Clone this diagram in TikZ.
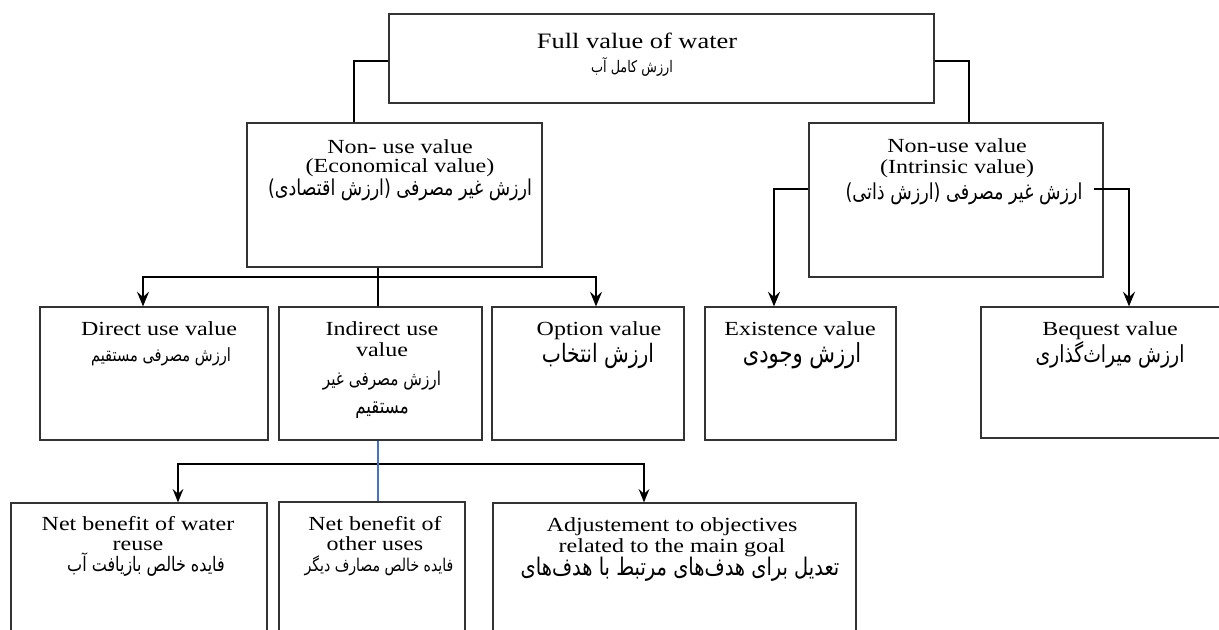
\documentclass[tikz,border=0pt]{standalone}
\usepackage{fontspec}
\setmainfont{Liberation Serif}[FakeStretch=1.2]
\newfontfamily\farsifont[Script=Arabic,FakeStretch=0.8]{DejaVu Sans}
\TeXXeTstate=1
\newcommand\fa[1]{{\farsifont\beginR #1\endR}}
\newcommand\fasize[1]{\fontsize{#1}{#1}\selectfont}
\usetikzlibrary{arrows.meta,fit,calc}

\tikzset{
  box/.style={draw=black!80, line width=0.9pt, inner sep=0pt},
  link/.style={line width=2pt},
  thinlink/.style={line width=1.5pt},
  arr/.style={link, -{Stealth[length=11pt,width=9pt,inset=4pt]}},
  thinarr/.style={thinlink, -{Stealth[length=10pt,width=8pt,inset=3.5pt]}},
  en/.style={anchor=base, inner sep=0pt, font=\fontsize{15}{17}\selectfont},
  fa/.style={anchor=base, inner sep=0pt, font=\fasize{15}},
}

\begin{document}
\begin{tikzpicture}[x=0.75pt,y=-0.75pt]
  \fill[white] (0,0) rectangle (1219,629);
  \useasboundingbox (0,0) rectangle (1219,629);

  % Full value
  \node[box, fit={(389,14) (934,103)}] (full) {};
  \node[en, font=\fontsize{16.5}{18}\selectfont] (fullEn) at (637,48) {Full value of water};
  \node[fa, font=\fasize{12}] (fullFa) at (632,72) {\fa{ارزش کامل آب}};

  % Economical value
  \node[box, fit={(247,123) (542,267)}] (econ) {};
  \node[en] (econEn) at (400,153) {Non- use value};
  \node[en] (econEnB) at (400,172) {(Economical value)};
  \node[fa, font=\fasize{16.4}] (econFa) at (400,195) {\fa{ارزش غیر مصرفی (ارزش اقتصادی)}};

  % Intrinsic value
  \node[box, fit={(809,123) (1103,277)}] (intr) {};
  \node[en] (intrEn) at (957,152) {Non-use value};
  \node[en] (intrEnB) at (957,173) {(Intrinsic value)};
  \node[fa, font=\fasize{16.5}] (intrFa) at (964,199) {\fa{ارزش غیر مصرفی (ارزش ذاتی)}};

  % Use values
  \node[box, fit={(40,307) (268,440)}] (direct) {};
  \node[en] (directEn) at (159,335) {Direct use value};
  \node[fa, font=\fasize{13.7}] (directFa) at (161,361) {\fa{ارزش مصرفی مستقیم}};

  \node[box, fit={(279,307) (482,440)}] (indirect) {};
  \node[en] (indirectEn) at (382,335) {Indirect use};
  \node[en] (indirectEnB) at (382,356) {value};
  \node[fa, font=\fasize{14.3}] (indirectFa) at (382,385) {\fa{ارزش مصرفی غیر}};
  \node[fa, font=\fasize{15.6}] (indirectFaB) at (382,413) {\fa{مستقیم}};

  \node[box, fit={(492,307) (684,440)}] (option) {};
  \node[en] (optionEn) at (599,335) {Option value};
  \node[fa, font=\fasize{19}] (optionFa) at (598,362) {\fa{ارزش انتخاب}};

  % Non-use values
  \node[box, fit={(705,307) (896,440)}] (exist) {};
  \node[en] (existEn) at (800,335) {Existence value};
  \node[fa, font=\fasize{19.7}] (existFa) at (802,362) {\fa{ارزش وجودی}};

  \node[box, fit={(981,307) (1239,438)}] (bequest) {};
  \node[en] (bequestEn) at (1110,335) {Bequest value};
  \node[fa, font=\fasize{17.6}] (bequestFa) at (1110,362) {\fa{ارزش میراث‌گذاری}};

  % Indirect benefits
  \node[box, fit={(11,503) (267,660)}] (reuse) {};
  \node[en] (reuseEn) at (138,530) {Net benefit of water};
  \node[en] (reuseEnB) at (138,550) {reuse};
  \node[fa, font=\fasize{15}] (reuseFa) at (146,571) {\fa{فایده خالص بازیافت آب}};

  \node[box, fit={(279,502) (465,660)}] (other) {};
  \node[en] (otherEn) at (375,530) {Net benefit of};
  \node[en] (otherEnB) at (375,550) {other uses};
  \node[fa, font=\fasize{13.2}] (otherFa) at (379,571) {\fa{فایده خالص مصارف دیگر}};

  \node[box, fit={(493,503) (856,660)}] (adjust) {};
  \node[en] (adjustEn) at (672,531) {Adjustement to objectives};
  \node[en] (adjustEnB) at (672,552) {related to the main goal};
  \node[fa, font=\fasize{18.2}] (adjustFa) at (680,575) {\fa{تعدیل برای هدف‌های مرتبط با هدف‌های}};

  % Edges
  \draw[link] ($(full.west)+(0,2.5)$) -| ($(econ.north)+(-40.5,0)$);
  \draw[link] ($(full.east)+(0,2.5)$) -| ($(intr.north)+(13,0)$);

  \coordinate (hubA) at (378,277);
  \draw[link] (econ.south -| hubA) -- (indirect.north -| hubA);
  \draw[arr] (hubA) -| ($(direct.north)+(-11,0)$);
  \draw[arr] (hubA) -| ($(option.north)+(8,0)$);

  \coordinate (hubB) at (1000,189);
  \draw[arr] (intr.west |- hubB) -| ($(exist.north)+(-26.5,0)$);
  \draw[arr] ($(intr.east |- hubB)+(-10,0)$) -| ($(bequest.north)+(19,0)$);

  \coordinate (hubC) at (378,464);
  \draw[thinarr] (hubC) -| ($(reuse.north)+(39,0)$);
  \draw[thinarr] (hubC) -| ($(adjust.north)+(-30.5,0)$);
  \draw[thinlink, draw={rgb,255:red,68;green,114;blue,196}] (indirect.south -| hubC) -- (other.north -| hubC);
\end{tikzpicture}
\end{document}
